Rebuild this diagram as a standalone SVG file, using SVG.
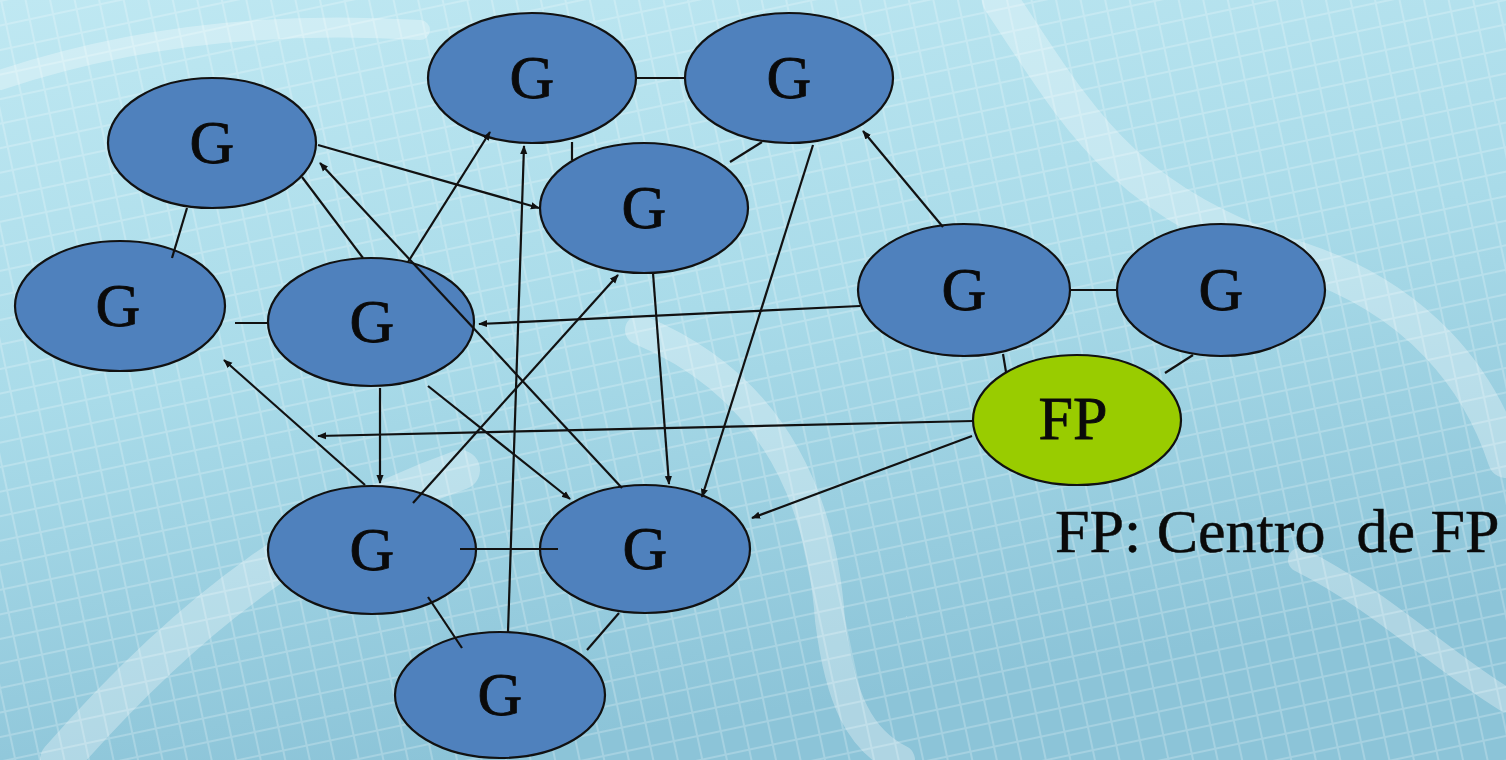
<svg xmlns="http://www.w3.org/2000/svg" width="1506" height="760" viewBox="0 0 1506 760">
<defs>
<linearGradient id="bg" x1="0" y1="0" x2="0.3" y2="1">
<stop offset="0" stop-color="#bfe8f2"/>
<stop offset="0.5" stop-color="#a9dbe9"/>
<stop offset="1" stop-color="#8cc4d8"/>
</linearGradient>
<pattern id="mesh" width="24" height="24" patternUnits="userSpaceOnUse" patternTransform="rotate(-12)">
<path d="M0 0H24M0 0V24" stroke="#ffffff" stroke-width="4" fill="none"/>
</pattern>
<marker id="arr" viewBox="0 0 10 10" markerWidth="9" markerHeight="9" refX="9" refY="5" orient="auto" markerUnits="userSpaceOnUse">
<path d="M0 1L10 5L0 9z" fill="#111"/>
</marker>
<style>
.n{fill:#4f81bd;stroke:#111;stroke-width:2.2}
.fp{fill:#99cc00;stroke:#111;stroke-width:2.2}
.t{font-family:"Liberation Serif","Times New Roman",serif;font-size:62px;fill:#0a0a0a;stroke:#0a0a0a;stroke-width:0.8;text-anchor:middle}
.c line{stroke:#111;stroke-width:2.2}
.a{marker-end:url(#arr)}
.lbl{font-family:"Liberation Serif","Times New Roman",serif;font-size:62px;fill:#0a0a0a;stroke:#0a0a0a;stroke-width:0.5;white-space:pre}
</style>
</defs>
<rect width="1506" height="760" fill="url(#bg)"/>
<rect width="1506" height="760" fill="url(#mesh)" opacity="0.22"/>
<g fill="none" stroke="#ffffff" stroke-linecap="round" opacity="0.3">
<path d="M60 760C200 600 320 520 460 470" stroke-width="40"/>
<path d="M1000 0C1080 120 1120 200 1300 260C1420 300 1480 380 1506 460" stroke-width="36"/>
<path d="M640 330C760 380 820 480 830 620C840 700 860 740 900 760" stroke-width="30"/>
<path d="M1300 560C1380 600 1440 660 1506 700" stroke-width="24"/>
<path d="M0 80C120 40 260 20 420 30" stroke-width="20"/>
</g>
<g id="n1"><ellipse class="n" cx="212" cy="143" rx="104" ry="65"/><text class="t" x="212" y="163">G</text></g>
<g id="n2"><ellipse class="n" cx="120" cy="306" rx="105" ry="65"/><text class="t" x="118" y="326">G</text></g>
<g id="n3"><ellipse class="n" cx="371" cy="322" rx="103" ry="64"/><text class="t" x="372" y="342">G</text></g>
<g id="n4"><ellipse class="n" cx="532" cy="78" rx="104" ry="65"/><text class="t" x="532" y="98">G</text></g>
<g id="n5"><ellipse class="n" cx="789" cy="78" rx="104" ry="65"/><text class="t" x="789" y="98">G</text></g>
<g id="n6"><ellipse class="n" cx="644" cy="208" rx="104" ry="65"/><text class="t" x="644" y="228">G</text></g>
<g id="n7"><ellipse class="n" cx="964" cy="290" rx="106" ry="66"/><text class="t" x="964" y="310">G</text></g>
<g id="n8"><ellipse class="n" cx="1221" cy="290" rx="104" ry="66"/><text class="t" x="1221" y="310">G</text></g>
<g id="fp"><ellipse class="fp" cx="1077" cy="420" rx="104" ry="65"/><text class="t" x="1073" y="439" font-size="64">FP</text></g>
<g id="n9"><ellipse class="n" cx="372" cy="550" rx="104" ry="64"/><text class="t" x="372" y="570">G</text></g>
<g id="n10"><ellipse class="n" cx="645" cy="549" rx="105" ry="64"/><text class="t" x="645" y="569">G</text></g>
<g id="n11"><ellipse class="n" cx="500" cy="695" rx="105" ry="63"/><text class="t" x="500" y="715">G</text></g>
<g id="connectors" class="c">
<line x1="187" y1="208" x2="172" y2="258"/>
<line class="a" x1="318" y1="145" x2="539" y2="208"/>
<line x1="302" y1="177" x2="363" y2="258"/>
<line class="a" x1="622" y1="488" x2="320" y2="163"/>
<line x1="235" y1="323" x2="268" y2="323"/>
<line class="a" x1="408" y1="262" x2="490" y2="132"/>
<line x1="637" y1="78" x2="684" y2="78"/>
<line x1="572" y1="142" x2="572" y2="160"/>
<line x1="762" y1="142" x2="730" y2="162"/>
<line class="a" x1="508" y1="632" x2="524" y2="146"/>
<line class="a" x1="653" y1="273" x2="669" y2="484"/>
<line class="a" x1="813" y1="145" x2="702" y2="497"/>
<line class="a" x1="943" y1="227" x2="863" y2="131"/>
<line class="a" x1="860" y1="306" x2="479" y2="324"/>
<line x1="1070" y1="290" x2="1117" y2="290"/>
<line x1="1003" y1="354" x2="1006" y2="372"/>
<line x1="1193" y1="355" x2="1165" y2="373"/>
<line class="a" x1="973" y1="421" x2="318" y2="436"/>
<line class="a" x1="972" y1="436" x2="752" y2="518"/>
<line class="a" x1="413" y1="503" x2="618" y2="275"/>
<line class="a" x1="380" y1="388" x2="380" y2="483"/>
<line class="a" x1="365" y1="485" x2="224" y2="360"/>
<line class="a" x1="428" y1="386" x2="570" y2="499"/>
<line x1="460" y1="549" x2="558" y2="549"/>
<line x1="428" y1="597" x2="462" y2="648"/>
<line x1="619" y1="613" x2="587" y2="650"/>
</g>
<text class="lbl" x="1055" y="552" xml:space="preserve">FP: Centro  de FP</text>
</svg>
